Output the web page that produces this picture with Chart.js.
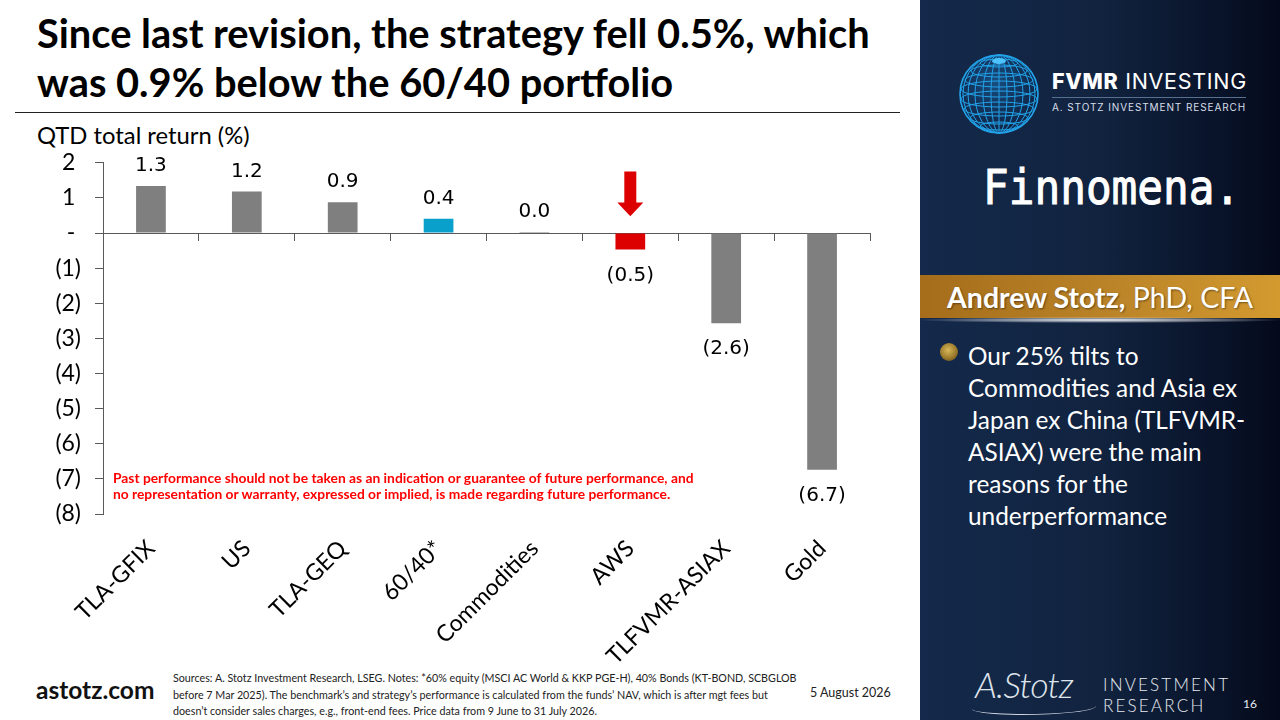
<!DOCTYPE html>
<html>
<head>
<meta charset="utf-8">
<title>QTD total return</title>
<script src="https://cdn.jsdelivr.net/npm/chart.js@4.4.1/dist/chart.umd.min.js"></script>
<style>
  html, body { margin: 0; padding: 0; }
  body { width: 1280px; height: 720px; position: relative; overflow: hidden; background: #fff; font-family: Lato, "Noto Sans", sans-serif; }
  .abs { position: absolute; white-space: nowrap; }
  #title { left: 37px; top: 8px; font-size: 39.8px; font-weight: 700; line-height: 49px; color: #000; }
  #rule { left: 15px; top: 112px; width: 885px; height: 1px; background: #222; }
  #ytitle { left: 37px; top: 121px; font-size: 23.8px; color: #000; }
  #chart-box { left: 30px; top: 135px; width: 860px; height: 555px; }
  #disclaimer { left: 113px; top: 470px; font-size: 13.8px; font-weight: 700; color: #f00; line-height: 16px; }
  #site { left: 36px; top: 675px; font-size: 24.5px; font-weight: 700; color: #111; }
  #sources { left: 173px; top: 670px; font-size: 11px; line-height: 16.5px; color: #222; transform: scaleX(0.975); transform-origin: left top; }
  #date { left: 810px; top: 685px; font-size: 12.5px; color: #222; }

  #panel { left: 920px; top: 0; width: 360px; height: 720px;
    background: linear-gradient(90deg, #14294b 0%, #11233f 50%, #081228 85%, #040a1a 100%); }
  #globe { left: 958px; top: 53px; }
  #fvmr { left: 1052px; top: 71px; font-family: Inter, sans-serif; font-size: 21.5px; line-height: 21px; color: #fff; letter-spacing: 0.7px; }
  #fvmr b { font-weight: 800; }
  #fvmr-rule { left: 1052px; top: 97px; width: 194px; height: 1px; background: #56708f; }
  #fvmr-sub { left: 1052px; top: 101px; font-family: Inter, sans-serif; font-size: 10px; color: #d8dee8; letter-spacing: 0.9px; }
  #finn { left: 983px; top: 163px; font-family: "DejaVu Sans Mono", monospace; font-size: 48px; line-height: 48px; color: #fff;
    -webkit-text-stroke: 1px #fff; transform: scaleX(0.89); transform-origin: left top; }
  #band { left: 920px; top: 275px; width: 360px; height: 43px;
    background: linear-gradient(90deg, #a56d1a 0%, #b98227 50%, #d39a30 100%);
    display: flex; align-items: center; justify-content: center;
    font-size: 28.5px; color: #fff; text-shadow: 1px 1px 2px rgba(0,0,0,0.45); }
  #band b { font-weight: 700; }
  #glow { left: 920px; top: 317px; width: 360px; height: 6px;
    background: radial-gradient(ellipse at center, rgba(255,255,255,0.95) 0%, rgba(255,255,255,0.4) 45%, rgba(255,255,255,0) 72%); }
  #bullet { left: 940px; top: 343px; width: 18px; height: 18px; border-radius: 50%;
    background: radial-gradient(circle at 45% 40%, #d9b85a 0%, #9c7b2c 55%, #4d3a12 100%); }
  #note { left: 968px; top: 340px; font-size: 24.4px; line-height: 32px; color: #fff; }
  #sig { left: 975px; top: 662px; font-size: 36px; font-style: italic; font-weight: 300; color: #dfe4ec; letter-spacing: -1px; }
  #sig-line { left: 972px; top: 700px; width: 124px; height: 14px; border-bottom: 1.5px solid #cfd6e0; border-radius: 0 0 60% 40%; }
  #ir { left: 1103px; top: 674px; font-size: 17px; line-height: 21px; font-weight: 300; color: #e6eaf0; letter-spacing: 2.2px; }
  #page { left: 1243px; top: 696px; font-size: 12px; color: #e6eaf0; }
</style>
</head>
<body>
<div id="title" class="abs">Since last revision, the strategy fell 0.5%, which<br>was 0.9% below the 60/40 portfolio</div>
<div id="rule" class="abs"></div>
<div id="ytitle" class="abs">QTD total return (%)</div>
<div id="site" class="abs">astotz.com</div>
<div id="sources" class="abs">Sources: A. Stotz Investment Research, LSEG. Notes: *60% equity (MSCI AC World &amp; KKP PGE-H), 40% Bonds (KT-BOND, SCBGLOB<br>before 7 Mar 2025). The benchmark’s and strategy’s performance is calculated from the funds’ NAV, which is after mgt fees but<br>doesn’t consider sales charges, e.g., front-end fees. Price data from 9 June to 31 July 2026.</div>
<div id="date" class="abs">5 August 2026</div>
<div id="chart-box" class="abs"><canvas id="returns-chart" width="860" height="555"></canvas></div>
<div id="disclaimer" class="abs">Past performance should not be taken as an indication or guarantee of future performance, and<br>no representation or warranty, expressed or implied, is made regarding future performance.</div>

<div id="panel" class="abs"></div>
<svg id="globe" class="abs" width="82" height="82" viewBox="0 0 82 82">
  <defs>
    <radialGradient id="gfill" cx="45%" cy="35%" r="65%">
      <stop offset="0%" stop-color="#1d6fb0" stop-opacity="0.55"/>
      <stop offset="100%" stop-color="#0b2a55" stop-opacity="0.2"/>
    </radialGradient>
  </defs>
  <circle cx="41" cy="41" r="39" fill="url(#gfill)" stroke="#22a3ea" stroke-width="1.6"/>
  <g fill="none" stroke="#22a3ea" stroke-width="1">
    <ellipse cx="41" cy="41" rx="8" ry="39"/>
    <ellipse cx="41" cy="41" rx="16" ry="39"/>
    <ellipse cx="41" cy="41" rx="24" ry="39"/>
    <ellipse cx="41" cy="41" rx="31" ry="39"/>
    <ellipse cx="41" cy="41" rx="36" ry="39"/>
    <line x1="41" y1="2" x2="41" y2="80"/>
    <ellipse cx="41" cy="10" rx="19" ry="4"/>
    <ellipse cx="41" cy="18" rx="28" ry="6"/>
    <ellipse cx="41" cy="27" rx="34" ry="7"/>
    <ellipse cx="41" cy="36" rx="38" ry="8"/>
    <ellipse cx="41" cy="46" rx="38" ry="8"/>
    <ellipse cx="41" cy="56" rx="35" ry="7"/>
    <ellipse cx="41" cy="65" rx="29" ry="6"/>
    <ellipse cx="41" cy="73" rx="19" ry="4"/>
  </g>
  <ellipse cx="41" cy="8" rx="7" ry="3" fill="#4cc3ff"/>
</svg>
<div id="fvmr" class="abs"><b>FVMR</b> INVESTING</div>
<div id="fvmr-rule" class="abs"></div>
<div id="fvmr-sub" class="abs">A. STOTZ INVESTMENT RESEARCH</div>
<div id="finn" class="abs">Finnomena.</div>
<div id="band" class="abs"><span><b>Andrew Stotz,</b> PhD, CFA</span></div>
<div id="glow" class="abs"></div>
<div id="bullet" class="abs"></div>
<div id="note" class="abs">Our 25% tilts to<br>Commodities and Asia ex<br>Japan ex China (TLFVMR-<br>ASIAX) were the main<br>reasons for the<br>underperformance</div>
<div id="sig" class="abs">A.Stotz</div>
<div id="sig-line" class="abs"></div>
<div id="ir" class="abs">INVESTMENT<br>RESEARCH</div>
<div id="page" class="abs">16</div>

<script>
// QTD total return (%)
const categories = ['TLA-GFIX', 'US', 'TLA-GEQ', '60/40*', 'Commodities', 'AWS', 'TLFVMR-ASIAX', 'Gold'];
const returns = [1.34, 1.18, 0.88, 0.41, 0.03, -0.47, -2.57, -6.74];
const yMin = -8;
const yMax = 2;

const gray = '#7f7f7f';
const barColors = categories.map(c => c === '60/40*' ? '#0aa0cc' : c === 'AWS' ? '#dd0000' : gray);

function fmtLabel(v) {
    return v < 0 ? '(' + Math.abs(v).toFixed(1) + ')' : v.toFixed(1);
}

function fmtTick(v) {
    if (v === 0) return '-\u2005';
    return v < 0 ? '(' + (-v) + ')' : v + '\u2005';
}

// value labels at the bar ends, plus the red arrow over AWS
const valueLabels = {
    id: 'valueLabels',
    afterDatasetsDraw(chart) {
        const ctx = chart.ctx;
        const meta = chart.getDatasetMeta(0);
        const y = chart.scales.y;
        ctx.save();
        ctx.font = '20px "DejaVu Sans"';
        ctx.fillStyle = '#000';
        ctx.textAlign = 'center';
        ctx.textBaseline = 'alphabetic';
        meta.data.forEach((bar, i) => {
            const v = returns[i];
            ctx.fillText(fmtLabel(v), bar.x, v >= 0 ? bar.y - 15 : bar.y + 31);
        });

        const aws = meta.data[categories.indexOf('AWS')];
        const top = y.getPixelForValue(1.75);
        const neck = y.getPixelForValue(0.87);
        const tip = y.getPixelForValue(0.48);
        ctx.fillStyle = '#dd0000';
        ctx.beginPath();
        ctx.moveTo(aws.x - 6, top);
        ctx.lineTo(aws.x + 6, top);
        ctx.lineTo(aws.x + 6, neck);
        ctx.lineTo(aws.x + 13, neck);
        ctx.lineTo(aws.x, tip);
        ctx.lineTo(aws.x - 13, neck);
        ctx.lineTo(aws.x - 6, neck);
        ctx.closePath();
        ctx.fill();
        ctx.restore();
    }
};

new Chart(document.getElementById('returns-chart'), {
    type: 'bar',
    data: {
        labels: categories,
        datasets: [{
            label: 'QTD total return (%)',
            data: returns,
            backgroundColor: barColors,
            barPercentage: 0.31,
            categoryPercentage: 1
        }]
    },
    options: {
        responsive: false,
        animation: false,
        layout: { padding: { top: 0, right: 20, bottom: 0, left: 0 } },
        plugins: { legend: { display: false }, tooltip: { enabled: false } },
        scales: {
            x: {
                type: 'category',
                offset: true,
                grid: { display: false },
                border: { display: false },
                ticks: {
                    color: '#000',
                    font: { family: 'Lato', size: 23 },
                    maxRotation: 45,
                    minRotation: 45,
                    padding: 13,
                    autoSkip: false
                },
                afterFit(scale) { scale.height = 176; }
            },
            xZero: {
                type: 'category',
                position: { y: 0 },
                offset: true,
                grid: { offset: true, drawOnChartArea: false, drawTicks: true, tickLength: 7, color: '#595959' },
                border: { display: true, color: '#595959', width: 1 },
                ticks: { display: false }
            },
            y: {
                min: yMin,
                max: yMax,
                ticks: {
                    stepSize: 1,
                    color: '#000',
                    font: { family: 'Lato', size: 23 },
                    padding: 14,
                    callback: v => fmtTick(v)
                },
                grid: { drawOnChartArea: false, drawTicks: true, tickLength: 8, color: '#595959' },
                border: { display: true, color: '#595959', width: 1 },
                afterFit(scale) { scale.width = 73; }
            }
        }
    },
    plugins: [valueLabels]
});
</script>
</body>
</html>
